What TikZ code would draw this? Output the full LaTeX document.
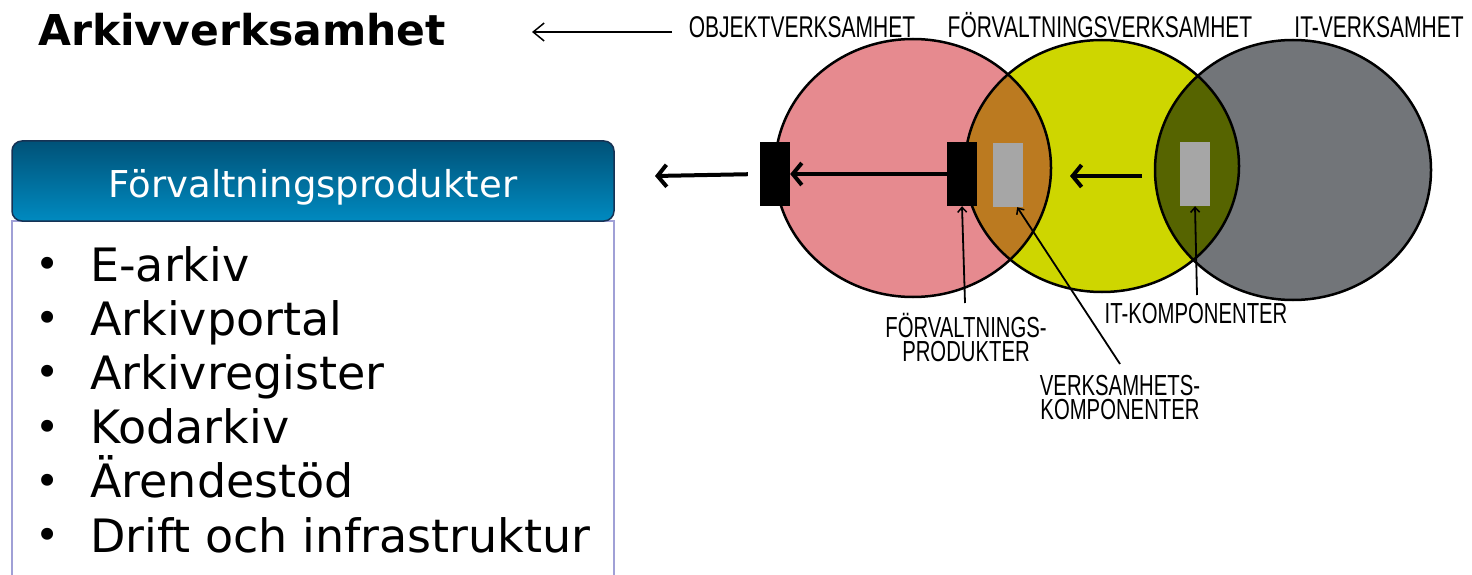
\documentclass[tikz,border=0pt]{standalone}
\usepackage{fontspec}
\setmainfont{DejaVu Sans}
\newfontfamily\labelfont[FakeStretch=0.70]{Liberation Sans}
\usetikzlibrary{arrows.meta}

\definecolor{objpink}{RGB}{230,138,143}
\definecolor{forvyellow}{RGB}{206,214,0}
\definecolor{itgray}{RGB}{114,117,121}
\definecolor{lensorange}{RGB}{187,122,32}
\definecolor{lensgreen}{RGB}{86,100,0}
\definecolor{compgray}{RGB}{166,166,166}
\definecolor{headtop}{RGB}{0,82,120}
\definecolor{headbot}{RGB}{0,138,192}
\definecolor{headline}{RGB}{22,50,84}
\definecolor{boxline}{RGB}{160,160,214}

\tikzset{
    venn/.style = {draw=black, line width=2.5pt},
    prodbox/.style = {fill=black, minimum width=30pt, minimum height=64pt, inner sep=0pt},
    compbox/.style = {fill=compgray, minimum width=30pt, minimum height=64pt, inner sep=0pt},
    flowarrow/.style = {line width=4pt, -{Straight Barb[length=9pt, width=22pt, line width=4pt]}},
    leader/.style = {line width=1.8pt, -{Straight Barb[length=5pt, width=9pt, line width=1.5pt]}},
    toplabel/.style = {anchor=base, font=\labelfont\fontsize{30}{30}\selectfont, inner sep=0pt},
    sublabel/.style = {anchor=base, align=center, font=\labelfont\fontsize{29}{24}\selectfont, inner sep=0pt},
    listitem/.style = {anchor=base west, inner sep=0pt, font=\fontsize{46}{54}\selectfont}
}
\newcommand{\listdot}{\makebox[58pt][l]{\hspace{3pt}\raisebox{2.5pt}{\fontsize{41}{41}\selectfont •}}}

\begin{document}
\begin{tikzpicture}[x=1pt, y=-1pt]
    \useasboundingbox (0,0) rectangle (1472,575);

    % three circles and their overlaps
    \coordinate (obj) at (913,168);
    \coordinate (forv) at (1102,166);
    \coordinate (it) at (1293,170);
    \fill[objpink] (obj) ellipse [x radius=138pt, y radius=129pt];
    \fill[forvyellow] (forv) ellipse [x radius=137pt, y radius=126pt];
    \fill[itgray] (it) ellipse [x radius=138pt, y radius=130pt];
    \begin{scope}
        \clip (obj) ellipse [x radius=138pt, y radius=129pt];
        \fill[lensorange] (forv) ellipse [x radius=137pt, y radius=126pt];
    \end{scope}
    \begin{scope}
        \clip (forv) ellipse [x radius=137pt, y radius=126pt];
        \fill[lensgreen] (it) ellipse [x radius=138pt, y radius=130pt];
    \end{scope}
    \draw[venn] (obj) ellipse [x radius=138pt, y radius=129pt];
    \draw[venn] (forv) ellipse [x radius=137pt, y radius=126pt];
    \draw[venn] (it) ellipse [x radius=138pt, y radius=130pt];

    \node[toplabel] (objlabel) at (802,38) {OBJEKTVERKSAMHET};
    \node[toplabel] (forvlabel) at (1100,38) {FÖRVALTNINGSVERKSAMHET};
    \node[toplabel] (itlabel) at (1379,38) {IT-VERKSAMHET};

    % products and components
    \node[prodbox] (prodL) at (775,174) {};
    \node[prodbox] (prodM) at (962,174) {};
    \node[compbox] (vcomp) at (1008,175) {};
    \node[compbox] (itcomp) at (1195,174) {};

    \coordinate (outL) at (655,176);
    \coordinate (itstart) at (1142,176);
    \coordinate (itend) at (1070,176);
    \draw[flowarrow] (prodM.west) -- (prodL.east);
    \draw[flowarrow, shorten <=12pt] (prodL.west) -- (outL);
    \draw[flowarrow] (itstart) -- (itend);

    % labels below
    \node[sublabel] (fplabel) at (966,361) {FÖRVALTNINGS-\\PRODUKTER};
    \node[sublabel] (vklabel) at (1120,419) {VERKSAMHETS-\\KOMPONENTER};
    \node[sublabel] (itklabel) at (1196,323) {IT-KOMPONENTER};
    \coordinate (fpfoot) at (965,303);
    \coordinate (vkfoot) at (1120,364);
    \coordinate (itfoot) at (1197,295);
    \draw[leader] (fpfoot) -- (prodM.south);
    \draw[leader] (vkfoot) -- ([xshift=-6pt]vcomp.south east);
    \draw[leader] (itfoot) -- (itcomp.south);

    % left side
    \node[anchor=base west, inner sep=0pt, font=\bfseries\fontsize{42.5}{42.5}\selectfont] (title) at (38,46) {Arkivverksamhet};
    \coordinate (titlearrow) at (672,32);
    \draw[line width=1.5pt, -{Straight Barb[length=11pt, width=18pt, line width=1.5pt]}] (titlearrow) -- (532,32);

    \draw[boxline, line width=1.5pt, fill=white] (12,221) rectangle (614,580);
    \node[draw=headline, line width=1.5pt, rounded corners=10pt, top color=headtop, bottom color=headbot,
          minimum width=602pt, minimum height=80pt, text height=32pt, text depth=0pt,
          text=white, font=\fontsize{37}{37}\selectfont] (head) at (313,181) {Förvaltningsprodukter};

    \foreach \item [count=\i] in {E-arkiv, Arkivportal, Arkivregister, Kodarkiv, Ärendestöd, Drift och infrastruktur}
        \node[listitem] (item\i) at (32,{281+54.2*(\i-1)}) {\listdot\item};
\end{tikzpicture}
\end{document}
